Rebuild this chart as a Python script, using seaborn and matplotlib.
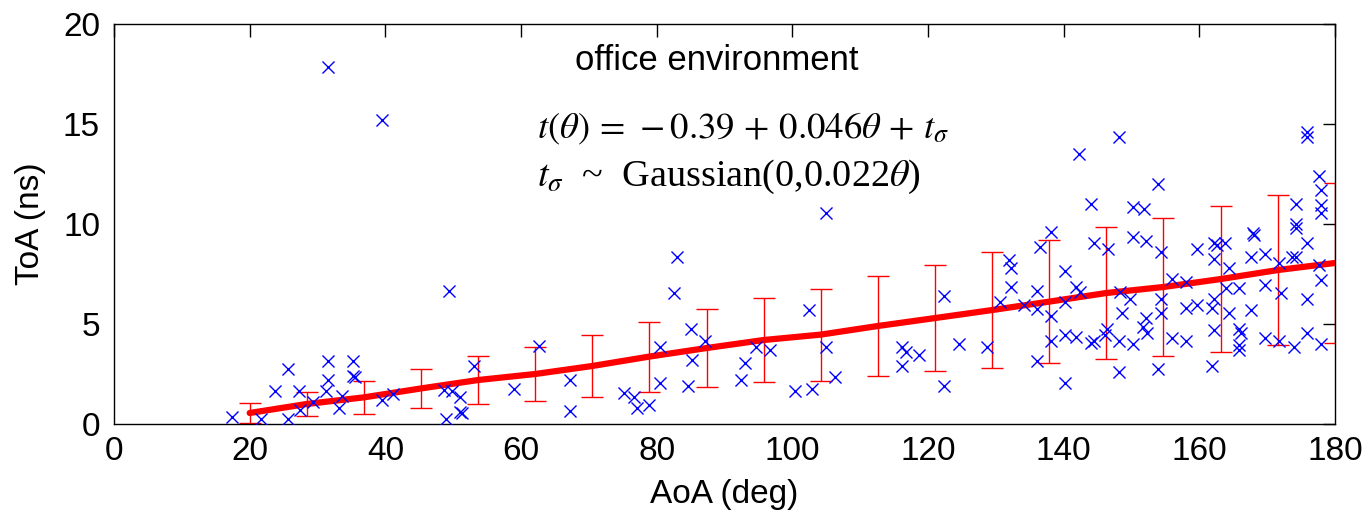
import matplotlib
matplotlib.use("Agg")
import matplotlib.pyplot as plt
import seaborn as sns
import pandas as pd

# ---- data ----
aoa_pts = [17.4, 21.7, 25.7, 25.7, 23.7, 27.3, 27.4, 29.4, 31.2, 31.5, 31.5, 33.6, 33.2, 35.3, 35.3, 35.6,
           39.5, 41.2, 31.5, 39.5,
           49.4, 48.9, 48.6, 49.8, 51.0, 51.0, 51.3, 53.1, 59.0, 62.7, 67.2, 67.2, 75.2, 76.7, 77.1, 78.8,
           83.0, 82.6, 80.5, 80.5, 85.0, 85.2, 84.6, 87.1,
           105.0, 102.5, 93.0, 92.5, 94.6, 96.7, 100.4, 102.9, 105.0, 106.3, 116.1, 116.7, 116.1, 118.7,
           122.4, 122.4, 124.5, 128.7,
           138.2, 136.5, 132.0, 132.3, 132.3, 130.6, 134.1, 136.0, 136.0, 138.2, 140.2, 140.2, 138.2, 140.2,
           136.0, 140.2,
           148.1, 142.3, 153.9, 144.0, 150.2, 151.8, 150.2, 152.2, 144.4, 146.6, 154.3, 159.6, 141.8, 142.4,
           148.3, 149.8, 155.9, 158.1, 148.6, 154.3, 154.3, 158.0, 159.6, 152.2, 151.7, 152.3, 141.8, 146.4,
           146.1, 144.0, 144.4, 148.1, 150.2, 155.9, 158.0, 148.1, 153.9,
           175.8, 175.8, 177.6, 178.0, 174.3, 178.0, 178.0, 174.3, 174.3, 167.9, 168.1, 175.8, 162.2, 162.6,
           163.8, 162.2, 164.3, 167.6, 169.7, 171.8, 173.6, 174.3, 177.6, 178.0, 163.9, 165.9, 169.7, 172.1,
           175.8, 162.2, 161.8, 164.3, 167.6, 162.2, 165.9, 166.2, 165.9, 165.9, 169.7, 171.8, 173.9, 175.8,
           178.0, 161.8]
toa_pts = [0.33, 0.27, 2.75, 0.23, 1.65, 1.67, 0.70, 1.12, 1.67, 3.17, 2.18, 1.38, 0.82, 3.17, 2.42, 2.35,
           1.20, 1.50, 17.87, 15.20,
           6.67, 0.25, 1.70, 1.65, 1.37, 0.62, 0.55, 2.92, 1.77, 3.90, 2.20, 0.67, 1.53, 1.37, 0.82, 0.93,
           8.37, 6.53, 3.87, 2.07, 4.73, 3.20, 1.92, 4.13,
           10.57, 5.70, 3.03, 2.20, 3.87, 3.70, 1.65, 1.75, 3.87, 2.33, 3.87, 3.58, 2.92, 3.45,
           6.40, 1.90, 4.00, 3.87,
           9.62, 8.87, 8.20, 7.78, 6.83, 6.12, 5.95, 6.67, 5.73, 5.40, 7.67, 6.12, 4.17, 4.45,
           3.17, 2.07,
           14.37, 13.50, 11.98, 11.00, 10.87, 10.73, 9.33, 9.17, 9.03, 8.75, 8.62, 8.73, 6.83, 6.62,
           6.62, 6.23, 7.25, 7.12, 5.57, 6.23, 5.57, 5.78, 5.95, 5.28, 4.87, 4.57, 4.33, 4.73,
           4.45, 4.07, 4.17, 4.17, 4.00, 4.28, 4.17, 2.62, 2.73,
           14.62, 14.37, 12.40, 11.70, 11.00, 10.95, 10.53, 10.00, 9.78, 9.57, 9.45, 9.07, 9.07, 8.93,
           9.03, 8.23, 7.78, 8.37, 8.48, 8.07, 8.37, 8.33, 7.95, 7.20, 6.78, 6.78, 6.95, 6.53,
           6.23, 6.23, 5.78, 5.57, 5.70, 4.70, 4.73, 4.53, 3.95, 3.70, 4.28, 4.17, 3.87, 4.57,
           4.00, 2.90]

bin_aoa = [20.0, 28.4, 36.8, 45.3, 53.7, 62.1, 70.5, 78.9, 87.4, 95.8,
           104.2, 112.6, 121.1, 129.5, 137.9, 146.3, 154.7, 163.2, 171.6, 180.0]
bin_mean = [0.55, 1.00, 1.33, 1.78, 2.20, 2.50, 2.90, 3.37, 3.80, 4.20,
            4.47, 4.90, 5.30, 5.70, 6.12, 6.55, 6.85, 7.25, 7.70, 8.05]
bin_err = [0.49, 0.62, 0.83, 0.98, 1.19, 1.33, 1.53, 1.75, 1.96, 2.09,
           2.30, 2.51, 2.65, 2.88, 3.07, 3.29, 3.44, 3.63, 3.77, 3.98]

x_ticks = [0, 20, 40, 60, 80, 100, 120, 140, 160, 180]
y_ticks = [0, 5, 10, 15, 20]
title_text = "office environment"
eq1 = r"$t(\theta)\,=\,-0.39\,+\,0.046\theta\,+\,t_{\sigma}$"
eq2 = r"$t_{\sigma}$  ~  Gaussian(0,0.022$\theta$)"

pts = pd.DataFrame({"AoA": aoa_pts, "ToA": toa_pts})
bins = pd.DataFrame({"AoA": bin_aoa, "mean": bin_mean, "err": bin_err})

sns.set_style("white")
plt.rcParams["font.family"] = ["Liberation Sans", "DejaVu Sans"]
plt.rcParams["mathtext.fontset"] = "stix"
plt.rcParams["text.color"] = "black"
plt.rcParams["axes.labelcolor"] = "black"

fig = plt.figure(figsize=(13.72, 5.21), dpi=100)
ax = fig.add_axes([114 / 1372, 1 - 424 / 521, (1335 - 114) / 1372, 400 / 521])

ax.errorbar(bins["AoA"], bins["mean"], yerr=bins["err"], fmt="none",
            ecolor="red", elinewidth=1.0, capsize=8, capthick=1.0, zorder=2)
sns.lineplot(data=bins, x="AoA", y="mean", ax=ax, color="red", linewidth=4.5,
             zorder=3, legend=False)
sns.scatterplot(data=pts, x="AoA", y="ToA", ax=ax, marker="x", color="blue",
                s=75, linewidth=1.0, zorder=4, legend=False)

ax.set_xlim(0, 180)
ax.set_ylim(0, 20)
ax.set_xticks(x_ticks)
ax.set_yticks(y_ticks)
ax.tick_params(axis="both", direction="in", length=9, width=1, labelsize=24,
               top=True, right=True, colors="black", labelcolor="black")
ax.tick_params(axis="x", pad=9)
ax.tick_params(axis="y", pad=10)
for sp in ax.spines.values():
    sp.set_visible(True)
    sp.set_color("black")
    sp.set_linewidth(1.0)

ax.set_xlabel("AoA (deg)", fontsize=24, labelpad=8, color="black")
ax.set_ylabel("ToA (ns)", fontsize=24, labelpad=12, color="black")

ax.text(88.9, 18.2, title_text, fontsize=25, ha="center", va="center", color="black")
ax.text(62.3, 14.75, eq1, fontsize=26.5, ha="left", va="center", color="black",
        family=["Liberation Serif", "DejaVu Serif"])
ax.text(62.3, 12.35, eq2, fontsize=27.5, ha="left", va="center", color="black",
        family=["Liberation Serif", "DejaVu Serif"])

fig.savefig("out.png", dpi=100)
